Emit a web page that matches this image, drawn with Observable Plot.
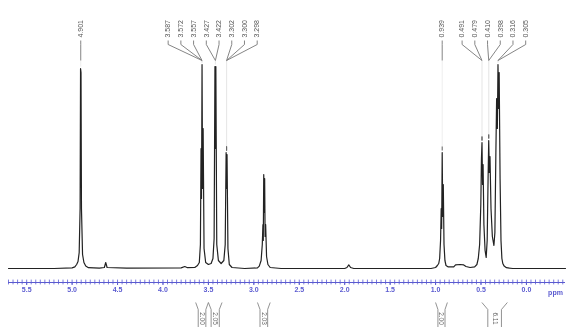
<!DOCTYPE html>
<html><head><meta charset="utf-8">
<script src="https://cdn.jsdelivr.net/npm/d3@7"></script>
<script src="https://cdn.jsdelivr.net/npm/@observablehq/plot@0.6"></script>
<style>html,body{margin:0;padding:0;background:#fff;} #chart svg{display:block;filter:blur(0.3px);}</style>
</head><body><div id="chart"></div>
<script>
// Spectrum (chemical shift in ppm, relative intensity)
const shiftPpm = [5.70,5.20,5.00,4.97,4.95,4.935,4.922,4.912,4.907,4.902,4.897,4.885,4.87,4.85,4.82,4.70,4.645,4.63,4.615,4.40,
  3.80,3.76,3.73,3.65,3.62,3.60,3.588,3.581,3.576,3.570,3.564,3.558,3.548,3.53,3.50,3.47,3.45,3.437,3.428,3.423,3.418,3.408,3.39,3.36,3.33,3.315,3.305,3.300,3.295,3.285,3.27,3.24,3.10,
  2.96,2.94,2.92,2.907,2.900,2.896,2.891,2.886,2.881,2.876,2.870,2.860,2.845,2.82,2.70,
  2.00,1.975,1.955,1.935,1.90,
  1.05,1.00,0.98,0.965,0.955,0.945,0.938,0.933,0.927,0.921,0.915,0.907,0.897,0.885,0.86,0.80,0.78,0.73,0.69,0.665,0.62,
  0.57,0.545,0.53,0.515,0.502,0.495,0.489,0.483,0.477,0.468,0.455,0.443,0.432,0.422,0.415,0.408,0.401,0.39,0.375,0.358,0.347,0.337,0.328,0.320,0.313,0.306,0.300,0.29,0.28,0.27,0.26,0.245,0.22,0.15,-0.43];
const intensity = [0,0,0.3,0.8,2,3.5,8,30,100,98,30,7,3,1.2,0.4,0.2,0.5,3,0.5,0.2,
  0.3,1,0.4,0.5,1.5,3,12,60,35,102,40,70,10,3,2,2.5,5,15,101,60,101,12,4,2.5,4,12,58,40,57,10,2,0.5,0,
  0.3,1.2,4,12,22,14,47,28,45,16,22,6,2,0.5,0,
  0,0.5,1.8,0.5,0,
  0,0.5,1.5,2.5,5,14,30,20,58,26,42,12,4,1.5,0.8,0.8,1.8,2,1.8,1,0.5,
  0.8,2,5,12,32,55,63,42,52,22,9,5.5,14,45,64,48,56,30,16,11.5,18,55,85,70,102,80,98,45,14,5,2.5,1.2,0.4,0,0];

// Peak labels
const labelText  = ["4.901","3.587","3.572","3.557","3.427","3.422","3.302","3.300","3.298","0.939","0.491","0.479","0.410","0.398","0.316","0.305"];
const labelGroup = [0,1,1,1,1,1,1,1,1,2,3,3,3,3,3,3];
const labelPeak  = [4.905,3.570,3.570,3.570,3.423,3.423,3.300,3.300,3.300,0.927,0.489,0.489,0.415,0.415,0.313,0.313];
const labelTop   = [100,102,102,102,101,101,58,58,58,58,63,63,64,64,102,102];
const groupCenter = [4.905,3.453,0.927,0.358];

// Integrals
const integralFrom  = [3.64,3.50,2.96,1.00,0.49];
const integralTo    = [3.50,3.35,2.82,0.87,0.21];
const integralValue = ["2.00","2.05","2.03","2.00","6.11"];

// Axis ticks
const majorTicks = [0.0,0.5,1.0,1.5,2.0,2.5,3.0,3.5,4.0,4.5,5.0,5.5];
const minorTicks = d3.range(-40, 571, 5).map(d => d / 100);

const spectrum = shiftPpm.map((p, i) => ({ppm: p, I: intensity[i]}));

// label x positions: spread evenly around the group center
const spacing = 0.14;
const groupSize = groupCenter.map((_, g) => labelGroup.filter(v => v === g).length);
const labelX = labelText.map((_, i) => {
  const g = labelGroup[i];
  const k = labelGroup.slice(0, i).filter(v => v === g).length;
  return groupCenter[g] + ((groupSize[g] - 1) / 2 - k) * spacing;
});
const idx = labelText.map((_, i) => i);

const yLabel = 115.5, yK1 = 114, yK2 = 112, yK3 = 104;
const dark = [], faint = [], marks2 = [];
idx.forEach(i => {
  const lx = labelX[i], px = labelPeak[i], top = labelTop[i];
  dark.push({x1: lx, y1: yK1, x2: lx, y2: yK2});
  dark.push({x1: lx, y1: yK2, x2: px, y2: yK3});
  if (top + 1 < yK3) {
    faint.push({x1: px, y1: yK3, x2: px, y2: top + 1});
    if (top < 90) marks2.push({x1: px, y1: top + 1, x2: px, y2: top + 3});
  }
});

const intSeg = [], intText = [];
integralFrom.forEach((f, j) => {
  const t = integralTo[j], c = (f + t) / 2, h = Math.min(0.075, (f - t) * 0.3);
  intSeg.push({x1: f, y1: -17, x2: c + h, y2: -20.5});
  intSeg.push({x1: t, y1: -17, x2: c - h, y2: -20.5});
  intSeg.push({x1: c + h, y1: -20.5, x2: c + h, y2: -29.5});
  intSeg.push({x1: c - h, y1: -20.5, x2: c - h, y2: -29.5});
  intText.push({x: c, text: integralValue[j]});
});

const blue = "#5a5ad0";
const seg = {x1: "x1", y1: "y1", x2: "x2", y2: "y2"};

const chart = Plot.plot({
  width: 568, height: 327,
  marginLeft: 8, marginRight: 3, marginTop: 0, marginBottom: 45,
  x: {domain: [5.70, -0.43], axis: null},
  y: {domain: [-7, 134], axis: null},
  style: {fontFamily: "'Liberation Sans', Arial, sans-serif", background: "#fff"},
  marks: [
    Plot.line(spectrum, {x: "ppm", y: "I", stroke: "#222", strokeWidth: 1.2}),
    Plot.link(faint, {...seg, stroke: "#e6e6e6", strokeWidth: 0.7}),
    Plot.link(marks2, {...seg, stroke: "#666", strokeWidth: 1}),
    Plot.link(dark, {...seg, stroke: "#777", strokeWidth: 0.9}),
    Plot.text(idx, {x: i => labelX[i], y: yLabel, text: i => labelText[i], rotate: -90, textAnchor: "start", fontSize: 7, fill: "#555"}),
    Plot.ruleY([-7], {stroke: blue, strokeWidth: 1}),
    Plot.ruleX(minorTicks, {y1: -5.8, y2: -8.2, stroke: blue, strokeWidth: 0.8}),
    Plot.axisX(majorTicks, {tickSize: 3, tickPadding: 2, tickFormat: d3.format(".1f"), color: blue, fontSize: 7, fontWeight: "bold"}),
    Plot.text(["ppm"], {x: -0.32, y: -12, text: d => d, fill: blue, fontSize: 7, fontWeight: "bold"}),
    Plot.link(intSeg, {...seg, stroke: "#777", strokeWidth: 0.8}),
    Plot.text(intText, {x: "x", y: -25, text: "text", rotate: 90, fontSize: 6.5, fill: "#666"})
  ]
});
document.getElementById("chart").appendChild(chart);
</script>
</body></html>
